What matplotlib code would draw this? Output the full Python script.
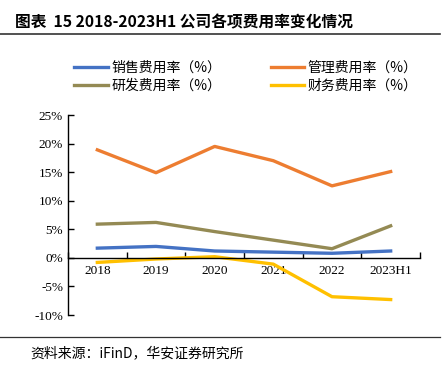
import numpy as np
import matplotlib.pyplot as plt
from matplotlib.ticker import FuncFormatter

plt.rcParams['font.family'] = ['Liberation Serif', 'Noto Sans CJK SC']

years = ['2018', '2019', '2020', '2021', '2022', '2023H1']
sales_rate = [1.7, 2.0, 1.2, 1.0, 0.8, 1.2]
admin_rate = [18.9, 14.9, 19.5, 17.0, 12.6, 15.1]
rd_rate = [5.9, 6.2, 4.6, 3.1, 1.6, 5.6]
fin_rate = [-0.8, -0.2, 0.2, -1.1, -6.8, -7.3]

fig = plt.figure(figsize=(4.48, 3.78), dpi=100)
ax = fig.add_axes([68 / 448, 1 - 315 / 378, 352 / 448, 200 / 378])

x = np.arange(len(years))
lw = 2.4
ax.plot(x, sales_rate, color='#4472C4', lw=lw, label='销售费用率（%）')
ax.plot(x, admin_rate, color='#ED7D31', lw=lw, label='管理费用率（%）')
ax.plot(x, rd_rate, color='#948A54', lw=lw, label='研发费用率（%）')
ax.plot(x, fin_rate, color='#FFC000', lw=lw, label='财务费用率（%）')

ax.set_xlim(-0.5, len(years) - 0.5)
ax.set_ylim(-10, 25)
ax.set_yticks(np.arange(-10, 26, 5))
ax.yaxis.set_major_formatter(FuncFormatter(lambda v, p: f'{v:.0f}%'))
ax.set_xticks(x)
ax.set_xticklabels(years)
ax.set_xticks(np.arange(-0.5, len(years), 1), minor=True)
ax.tick_params(axis='x', which='major', length=0, labelsize=9.5, pad=5)
ax.tick_params(axis='x', which='minor', length=4, direction='in', width=1)
ax.tick_params(axis='y', length=4, direction='in', width=1, labelsize=9.5)

ax.spines['bottom'].set_position(('data', 0))
ax.spines['top'].set_visible(False)
ax.spines['right'].set_visible(False)
for s in ('left', 'bottom'):
    ax.spines[s].set_linewidth(1)
    ax.spines[s].set_color('black')

handles, labels = ax.get_legend_handles_labels()
order = [0, 2, 1, 3]
fig.legend([handles[i] for i in order], [labels[i] for i in order], ncol=2,
           loc='center', bbox_to_anchor=(246 / 448, 1 - 77 / 378), frameon=False,
           prop={'family': 'Noto Sans CJK SC', 'size': 10}, handlelength=2.4,
           columnspacing=3.6, handletextpad=0.25, labelspacing=0.3)

fig.text(15 / 448, 1 - 22 / 378, '图表  15 2018-2023H1 公司各项费用率变化情况',
         fontsize=11.3, fontweight='bold', va='center',
         family=['Noto Sans CJK SC', 'DejaVu Sans'])
fig.add_artist(plt.Line2D([0, 440 / 448], [1 - 34 / 378] * 2, color='#333333', lw=1.2))
fig.add_artist(plt.Line2D([0, 440 / 448], [1 - 337 / 378] * 2, color='#333333', lw=0.9))
fig.text(30 / 448, 1 - 353 / 378, '资料来源：iFinD，华安证券研究所', fontsize=10, va='center',
         family=['Noto Sans CJK SC', 'Liberation Serif'])

fig.savefig('out.png', dpi=100)
